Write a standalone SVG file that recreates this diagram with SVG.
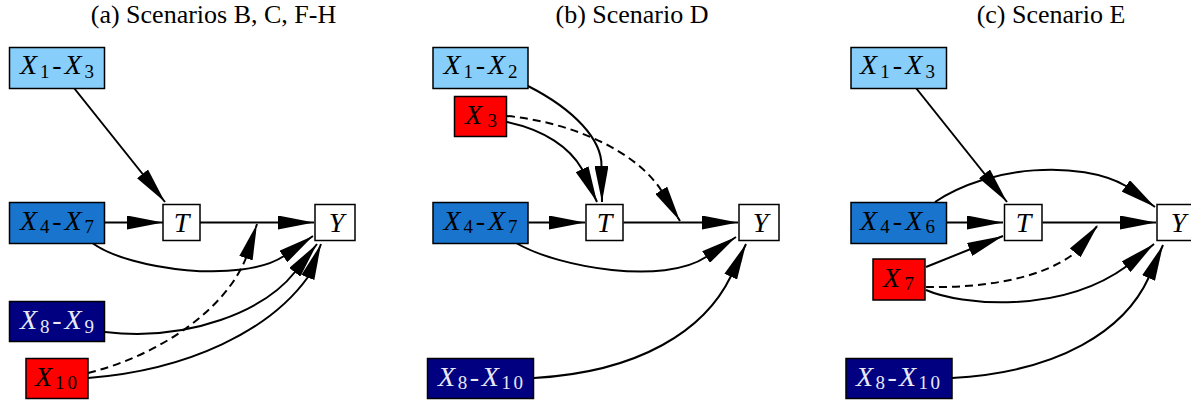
<svg xmlns="http://www.w3.org/2000/svg" width="1191" height="404" viewBox="0 0 1191 404">
<style>
.title{font-family:"Liberation Serif",serif;font-size:26px;fill:#000}
.box{stroke:#000;stroke-width:1.5}
.lb{fill:#87CEFA}.mb{fill:#1874CD}.nv{fill:#000080}.rd{fill:#FF0000}.wh{fill:#FFFFFF}
.lbl{font-family:"Liberation Serif",serif;font-size:28px;fill:#000}
.lw{fill:#E8E8F6}
.it{font-style:italic}
.sb{font-size:19px}
.e{fill:none;stroke:#000;stroke-width:2;marker-end:url(#ah)}
.d{stroke-dasharray:8 5}
</style>
<defs>
<marker id="ah" viewBox="0 0 36 14" refX="36" refY="7" markerWidth="36" markerHeight="14" markerUnits="userSpaceOnUse" orient="auto">
<path d="M0,0 L36,7 L0,14 z" fill="#000"/>
</marker>
</defs>
<rect width="1191" height="404" fill="#fff"/>
<g id="titles">
<text class="title" x="213.5" y="22.5" text-anchor="middle">(a) Scenarios B, C, F-H</text>
<text class="title" x="632" y="22.5" text-anchor="middle">(b) Scenario D</text>
<text class="title" x="1051" y="22.5" text-anchor="middle">(c) Scenario E</text>
</g>
<g id="connectors">
<!-- panel a -->
<path class="e" d="M74,88 L165,202"/>
<path class="e" d="M105,222.5 L163,222.5"/>
<path class="e" d="M200,222.5 L314,222.5"/>
<path class="e" d="M93,243.5 C130,270 242,284 284,256 L313,236"/>
<path class="e" d="M105,332 C190,342 265,310 295,272 L317,244"/>
<path class="e" d="M88,378 C190,370 270,330 308,277 L321,244"/>
<path class="e d" d="M88,373 C160,355 225,310 246,258 L257,224"/>
<!-- panel b -->
<path class="e" d="M528,86 C575,110 602,140 601.5,166 L602,202"/>
<path class="e" d="M507,122 C545,130 570,148 582,169 L597,202"/>
<path class="e d" d="M507,116 C570,122 635,150 661,190 L680,221"/>
<path class="e" d="M528.5,222.5 L585,222.5"/>
<path class="e" d="M623.5,222.5 L738,222.5"/>
<path class="e" d="M517,243.5 C560,268 664,285 706,257 L736,237"/>
<path class="e" d="M534,378 C640,372 705,330 731,276 L746,244"/>
<!-- panel c -->
<path class="e" d="M916,88 L1007,202"/>
<path class="e" d="M935,202 C990,165 1080,160 1126,186 L1155,207"/>
<path class="e" d="M947,222.5 L1003,222.5"/>
<path class="e" d="M1042.5,222.5 L1156,222.5"/>
<path class="e" d="M926,267 L1003,236"/>
<path class="e d" d="M926,287 C980,288 1040,280 1075,253 L1098,225"/>
<path class="e" d="M926,290 C960,305 1060,315 1127,266 L1154,244"/>
<path class="e" d="M952,378 C1060,372 1125,330 1149,277 L1163,245"/>
</g>
<!-- panel a nodes -->
<g id="a_X1_X3"><rect class="box lb" x="9.5" y="47.5" width="95" height="41"/>
<text class="lbl" x="20" y="74" textLength="74" lengthAdjust="spacing"><tspan class="it">X</tspan><tspan class="sb" dy="3.5">1</tspan><tspan dy="-3.5">-</tspan><tspan class="it">X</tspan><tspan class="sb" dy="3.5">3</tspan></text></g>
<g id="a_X4_X7"><rect class="box mb" x="9.5" y="202.5" width="95" height="41"/>
<text class="lbl" x="20" y="229.5" textLength="74" lengthAdjust="spacing"><tspan class="it">X</tspan><tspan class="sb" dy="3.5">4</tspan><tspan dy="-3.5">-</tspan><tspan class="it">X</tspan><tspan class="sb" dy="3.5">7</tspan></text></g>
<g id="a_T"><rect class="box wh" x="163" y="204.5" width="37" height="36"/>
<text class="lbl it" x="181.5" y="231.5" text-anchor="middle">T</text></g>
<g id="a_Y"><rect class="box wh" x="315" y="204.5" width="40" height="36"/>
<text class="lbl it" x="336.5" y="231.5" text-anchor="middle">Y</text></g>
<g id="a_X8_X9"><rect class="box nv" x="9.5" y="301.5" width="95" height="40"/>
<text class="lbl lw" x="20" y="329" textLength="74" lengthAdjust="spacing"><tspan class="it">X</tspan><tspan class="sb" dy="3.5">8</tspan><tspan dy="-3.5">-</tspan><tspan class="it">X</tspan><tspan class="sb" dy="3.5">9</tspan></text></g>
<g id="a_X10"><rect class="box rd" x="26" y="358.5" width="62" height="40"/>
<text class="lbl" x="35" y="385.5" textLength="42" lengthAdjust="spacing"><tspan class="it">X</tspan><tspan class="sb" dy="3.5">10</tspan></text></g>
<!-- panel b nodes -->
<g id="b_X1_X2"><rect class="box lb" x="433" y="47.5" width="95" height="41"/>
<text class="lbl" x="443.5" y="74" textLength="74" lengthAdjust="spacing"><tspan class="it">X</tspan><tspan class="sb" dy="3.5">1</tspan><tspan dy="-3.5">-</tspan><tspan class="it">X</tspan><tspan class="sb" dy="3.5">2</tspan></text></g>
<g id="b_X3"><rect class="box rd" x="454.5" y="96.5" width="52" height="40"/>
<text class="lbl" x="465" y="123.5" textLength="32" lengthAdjust="spacing"><tspan class="it">X</tspan><tspan class="sb" dy="3.5">3</tspan></text></g>
<g id="b_X4_X7"><rect class="box mb" x="433" y="202.5" width="95" height="41"/>
<text class="lbl" x="443.5" y="229.5" textLength="74" lengthAdjust="spacing"><tspan class="it">X</tspan><tspan class="sb" dy="3.5">4</tspan><tspan dy="-3.5">-</tspan><tspan class="it">X</tspan><tspan class="sb" dy="3.5">7</tspan></text></g>
<g id="b_T"><rect class="box wh" x="586" y="204.5" width="37" height="36"/>
<text class="lbl it" x="604.5" y="231.5" text-anchor="middle">T</text></g>
<g id="b_Y"><rect class="box wh" x="739" y="204.5" width="40" height="36"/>
<text class="lbl it" x="760.5" y="231.5" text-anchor="middle">Y</text></g>
<g id="b_X8_X10"><rect class="box nv" x="427.5" y="358.5" width="106" height="40"/>
<text class="lbl lw" x="438" y="385.5" textLength="85" lengthAdjust="spacing"><tspan class="it">X</tspan><tspan class="sb" dy="3.5">8</tspan><tspan dy="-3.5">-</tspan><tspan class="it">X</tspan><tspan class="sb" dy="3.5">10</tspan></text></g>
<!-- panel c nodes -->
<g id="c_X1_X3"><rect class="box lb" x="851" y="47.5" width="95.5" height="41"/>
<text class="lbl" x="860" y="74" textLength="75" lengthAdjust="spacing"><tspan class="it">X</tspan><tspan class="sb" dy="3.5">1</tspan><tspan dy="-3.5">-</tspan><tspan class="it">X</tspan><tspan class="sb" dy="3.5">3</tspan></text></g>
<g id="c_X4_X6"><rect class="box mb" x="851" y="202.5" width="95.5" height="41"/>
<text class="lbl" x="860" y="229.5" textLength="75" lengthAdjust="spacing"><tspan class="it">X</tspan><tspan class="sb" dy="3.5">4</tspan><tspan dy="-3.5">-</tspan><tspan class="it">X</tspan><tspan class="sb" dy="3.5">6</tspan></text></g>
<g id="c_T"><rect class="box wh" x="1004.5" y="204.5" width="37.5" height="36"/>
<text class="lbl it" x="1023.5" y="231.5" text-anchor="middle">T</text></g>
<g id="c_Y"><rect class="box wh" x="1157" y="204.5" width="40" height="36"/>
<text class="lbl it" x="1178.5" y="231.5" text-anchor="middle">Y</text></g>
<g id="c_X7"><rect class="box rd" x="873" y="259" width="52" height="41"/>
<text class="lbl" x="883" y="286.5" textLength="31" lengthAdjust="spacing"><tspan class="it">X</tspan><tspan class="sb" dy="3.5">7</tspan></text></g>
<g id="c_X8_X10"><rect class="box nv" x="846" y="358.5" width="106" height="40"/>
<text class="lbl lw" x="856" y="385.5" textLength="84" lengthAdjust="spacing"><tspan class="it">X</tspan><tspan class="sb" dy="3.5">8</tspan><tspan dy="-3.5">-</tspan><tspan class="it">X</tspan><tspan class="sb" dy="3.5">10</tspan></text></g>
</svg>
